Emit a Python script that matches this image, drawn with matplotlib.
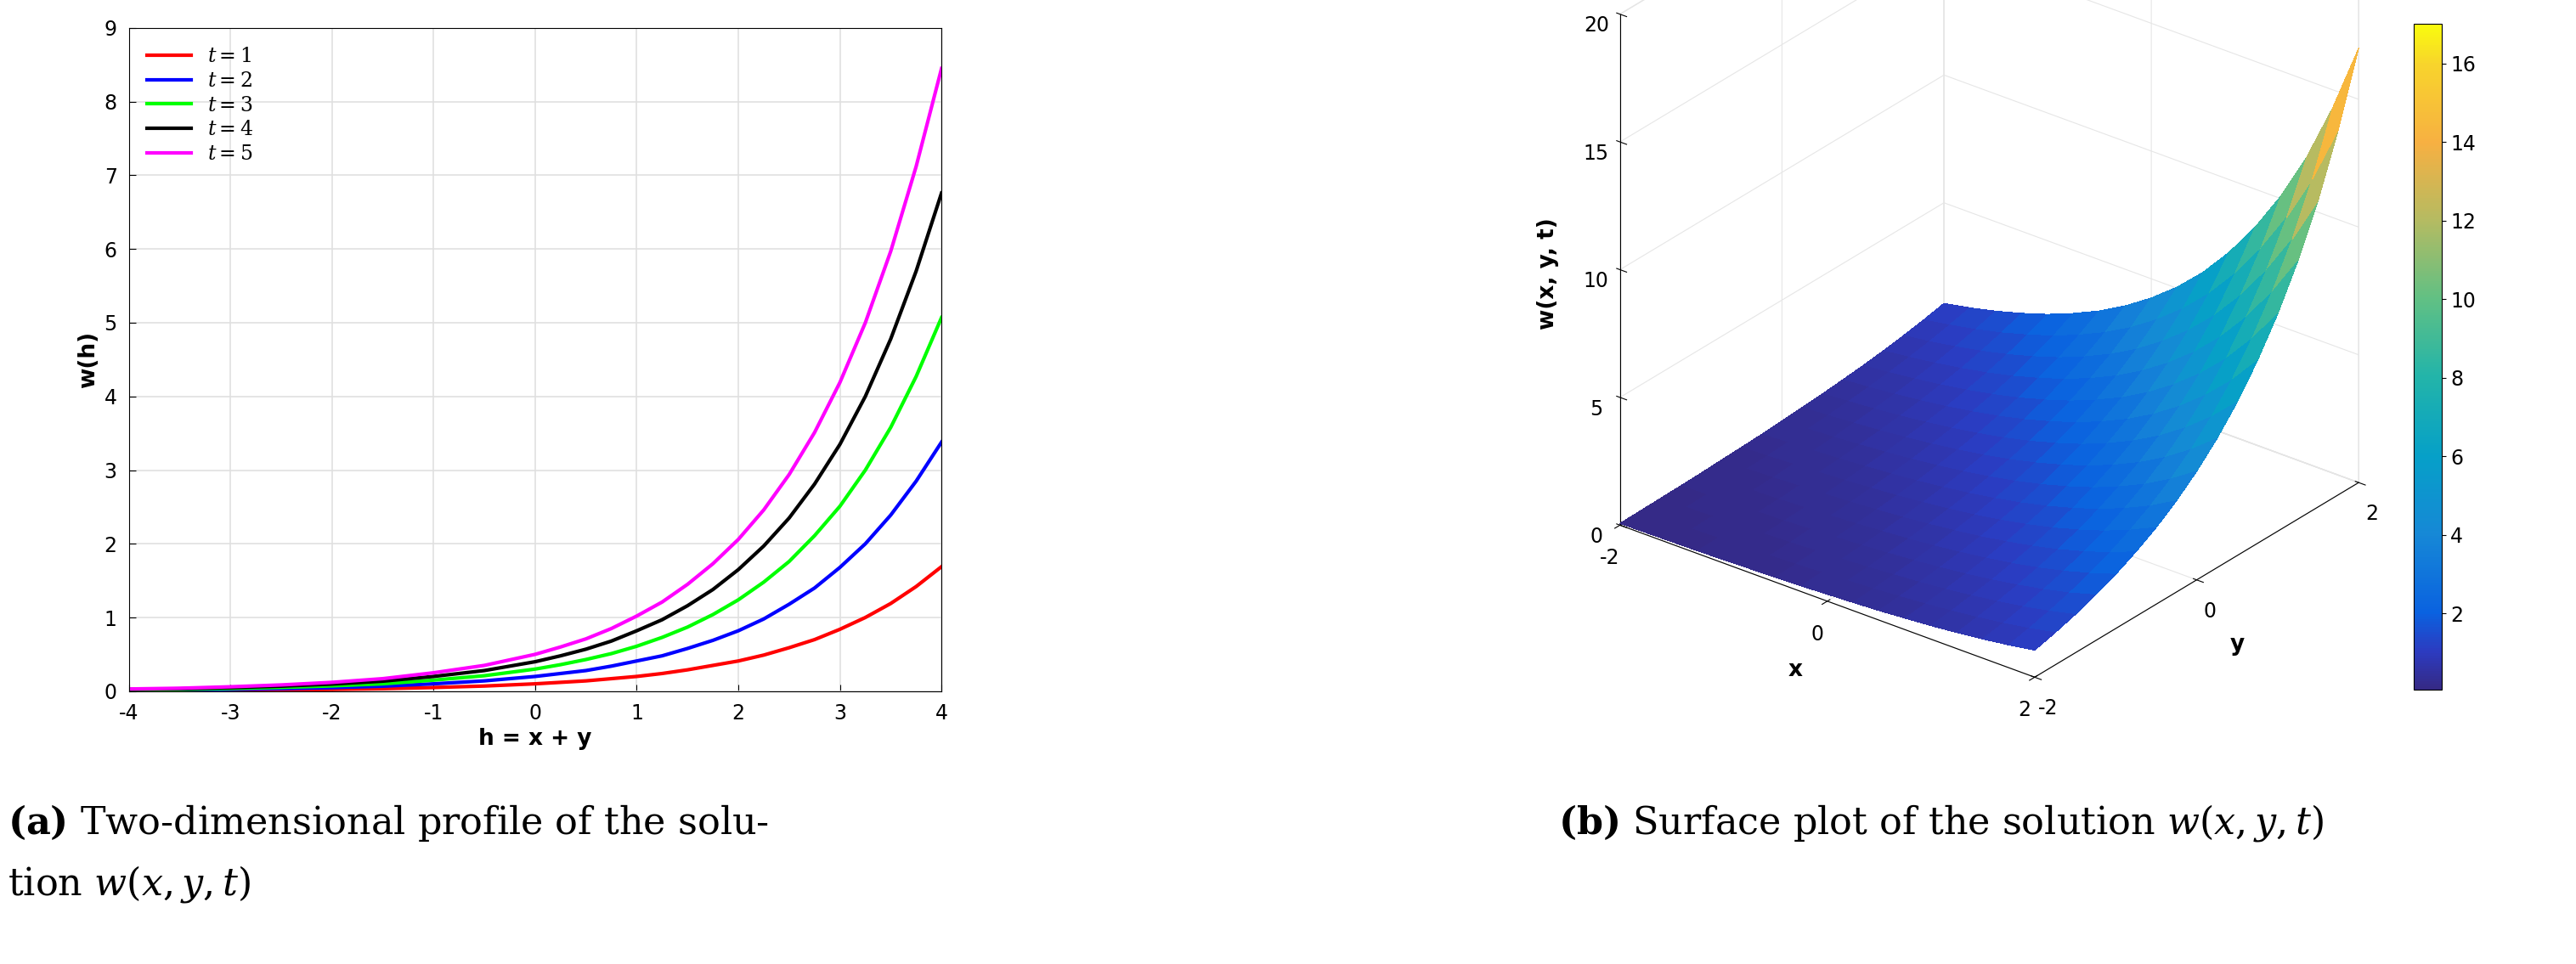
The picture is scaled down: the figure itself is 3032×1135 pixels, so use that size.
import numpy as np
import matplotlib.pyplot as plt
from matplotlib.colors import LinearSegmentedColormap

plt.rcParams['axes.unicode_minus'] = False
plt.rcParams['mathtext.fontset'] = 'dejavuserif'

# profile data
h = [-4, -3.5, -3, -2.5, -2, -1.5, -1, -0.5, 0, 0.25, 0.5, 0.75, 1, 1.25, 1.5, 1.75,
     2, 2.25, 2.5, 2.75, 3, 3.25, 3.5, 3.75, 4]
w_t1 = [0.006, 0.008, 0.012, 0.017, 0.024, 0.034, 0.05, 0.07, 0.10, 0.12, 0.14, 0.17, 0.20,
        0.24, 0.29, 0.35, 0.41, 0.49, 0.59, 0.70, 0.84, 1.00, 1.19, 1.42, 1.69]
w_t2 = [0.012, 0.016, 0.024, 0.034, 0.048, 0.068, 0.10, 0.14, 0.20, 0.24, 0.28, 0.34, 0.41,
        0.48, 0.58, 0.69, 0.82, 0.98, 1.18, 1.40, 1.68, 2.00, 2.39, 2.85, 3.38]
w_t3 = [0.018, 0.024, 0.036, 0.051, 0.072, 0.10, 0.15, 0.21, 0.30, 0.36, 0.43, 0.51, 0.61,
        0.73, 0.87, 1.04, 1.24, 1.48, 1.76, 2.11, 2.51, 3.00, 3.58, 4.27, 5.07]
w_t4 = [0.024, 0.032, 0.048, 0.068, 0.096, 0.136, 0.20, 0.28, 0.40, 0.48, 0.57, 0.68, 0.82,
        0.97, 1.16, 1.38, 1.65, 1.97, 2.35, 2.81, 3.35, 4.00, 4.78, 5.70, 6.76]
w_t5 = [0.03, 0.04, 0.06, 0.085, 0.12, 0.17, 0.25, 0.35, 0.50, 0.60, 0.71, 0.85, 1.02,
        1.21, 1.45, 1.73, 2.06, 2.46, 2.94, 3.51, 4.19, 5.00, 5.97, 7.12, 8.45]
labels = ['$t=1$', '$t=2$', '$t=3$', '$t=4$', '$t=5$']
colors = ['#ff0000', '#0000ff', '#00ff00', '#000000', '#ff00ff']

# surface values along h = x + y (h from -4 to 4, step 0.25) for panel (b)
grid = [-2, -1.75, -1.5, -1.25, -1, -0.75, -0.5, -0.25, 0, 0.25, 0.5, 0.75, 1, 1.25, 1.5, 1.75, 2]
w_surf = [0.066, 0.08, 0.094, 0.11, 0.13, 0.16, 0.19, 0.22, 0.27, 0.32, 0.375, 0.45, 0.53,
          0.63, 0.75, 0.89, 1.06, 1.26, 1.5, 1.79, 2.12, 2.53, 3.0, 3.57, 4.25, 5.05, 6.0,
          7.15, 8.5, 10.1, 12.0, 14.3, 17.0]

# parula-like colours, sampled from the colorbar
cb_vals = [0.066, 1.0, 2.0, 4.0, 6.0, 8.0, 10.0, 12.0, 14.0, 16.0, 17.0]
cb_cols = ['#352a87', '#2c3bc0', '#0a62e0', '#1688d6', '#06a0c8', '#22b4aa',
           '#60c084', '#b4bb62', '#f7b042', '#f8d42c', '#f9fb0e']
lo, hi = min(cb_vals), max(cb_vals)
parula = LinearSegmentedColormap.from_list(
    'parula', [((v - lo) / (hi - lo), c) for v, c in zip(cb_vals, cb_cols)])

fig = plt.figure(figsize=(30.32, 11.35), dpi=100)

# panel (a)
ax = fig.add_axes([0.05, 0.283, 0.3155, 0.688])
for w, lab, c in zip([w_t1, w_t2, w_t3, w_t4, w_t5], labels, colors):
    ax.plot(h, w, color=c, lw=3, label=lab)
ax.set_xlim(-4, 4)
ax.set_ylim(0, 9)
ax.set_xticks(range(-4, 5))
ax.set_yticks(range(0, 10))
ax.grid(True, color='#e0e0e0', lw=1.2)
ax.tick_params(labelsize=17, direction='in', length=6, pad=10)
ax.set_xlabel('h = x + y', fontsize=19, fontweight='bold')
ax.set_ylabel('w(h)', fontsize=19, fontweight='bold')
ax.legend(loc='upper left', fontsize=17, frameon=False, handlelength=2.2, labelspacing=0.2)

# panel (b)
X, Y = np.meshgrid(grid, grid, indexing='ij')
n = len(grid)
Z = np.array([[w_surf[i + j] for j in range(n)] for i in range(n)])
ax3 = fig.add_axes([0.588, 0.311, 0.36, 0.84], projection='3d', proj_type='ortho')
surf = ax3.plot_surface(X, Y, Z, cmap=parula, vmin=lo, vmax=hi,
                        rstride=1, cstride=1, linewidth=0, antialiased=False, shade=False)
surf.set_clip_on(False)
ax3.view_init(elev=28, azim=-52)
ax3.set_box_aspect((1, 1, 1.1), zoom=1.13)
ax3.set_xlim(-2, 2); ax3.set_ylim(-2, 2); ax3.set_zlim(0, 20)
ax3.set_xticks([-2, 0, 2]); ax3.set_yticks([-2, 0, 2]); ax3.set_zticks([0, 5, 10, 15, 20])
ax3.tick_params(labelsize=17)
ax3.set_xlabel('x', fontsize=19, fontweight='bold', labelpad=14)
ax3.set_ylabel('y', fontsize=19, fontweight='bold', labelpad=14)
ax3.set_zlabel('w(x, y, t)', fontsize=19, fontweight='bold', labelpad=14)
ax3.zaxis._axinfo['juggled'] = (1, 2, 0)
for a in (ax3.xaxis, ax3.yaxis, ax3.zaxis):
    a.pane.fill = False
    a.pane.set_edgecolor('#cccccc')
    a._axinfo['grid']['color'] = '#e6e6e6'
cax = fig.add_axes([0.937, 0.285, 0.011, 0.69])
cb = fig.colorbar(surf, cax=cax, ticks=[2, 4, 6, 8, 10, 12, 14, 16])
cb.ax.tick_params(labelsize=17)

# captions
fig.text(0.003, 0.135, r'$\mathbf{(a)}$ Two-dimensional profile of the solu-', fontsize=32, family='DejaVu Serif')
fig.text(0.003, 0.072, r'tion $w(x,y,t)$', fontsize=32, family='DejaVu Serif')
fig.text(0.605, 0.135, r'$\mathbf{(b)}$ Surface plot of the solution $w(x,y,t)$', fontsize=32, family='DejaVu Serif')

fig.savefig('out.png')
